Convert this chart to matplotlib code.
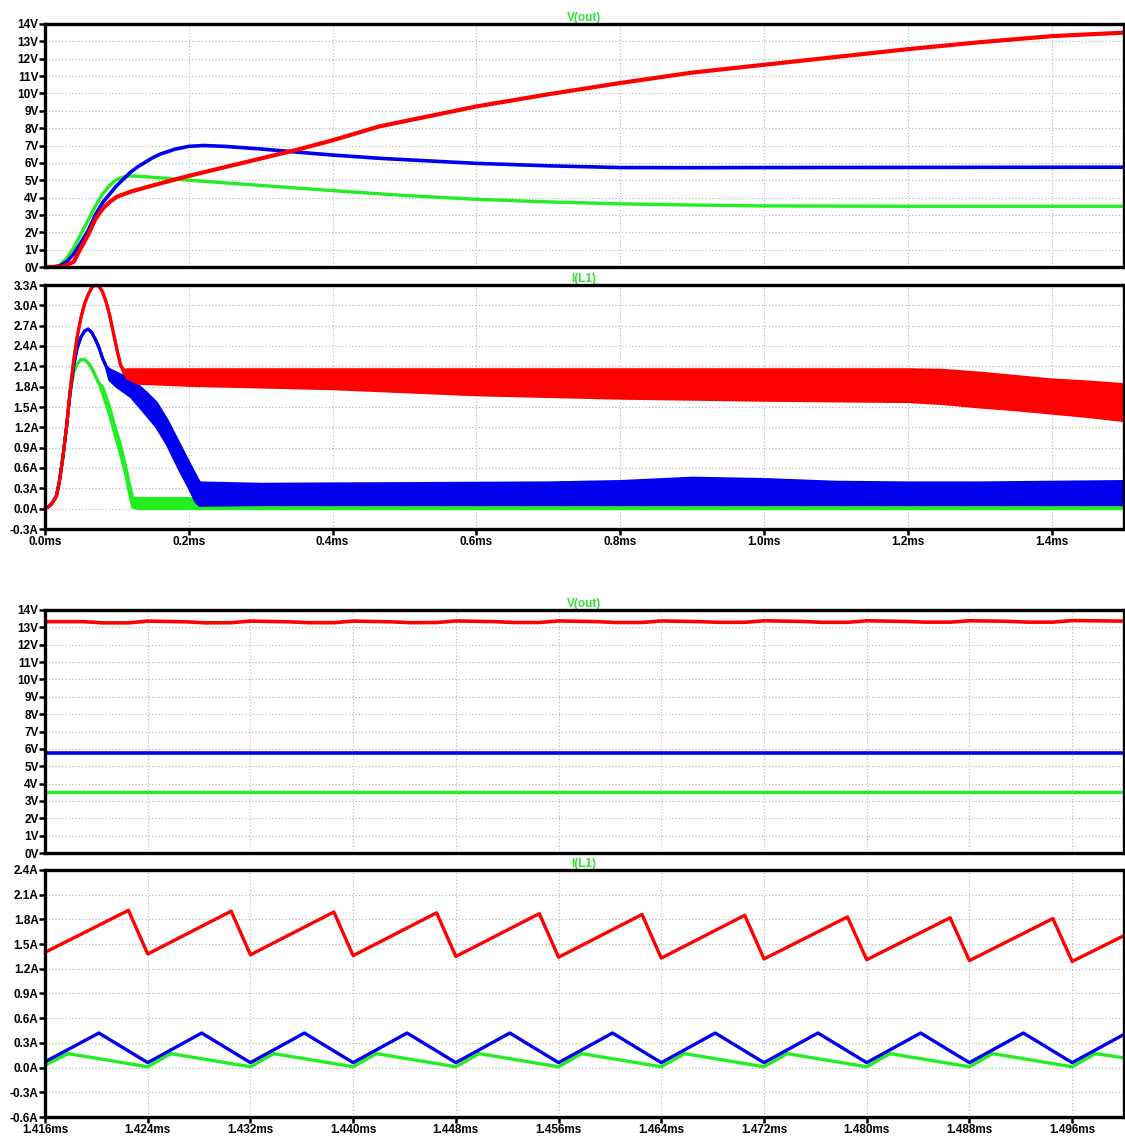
import numpy as np
import matplotlib
matplotlib.use("Agg")
import matplotlib.pyplot as plt
from matplotlib.ticker import FixedLocator, FuncFormatter

RED = "#ff0000"
BLUE = "#0000ee"
GREEN = "#22ee22"
TITLE_GREEN = "#33e033"

# ---- start-up transient, 0 .. 1.5 ms ----
# V(out)
v_green_t = [0, 0.01, 0.02, 0.03, 0.04, 0.05, 0.06, 0.07, 0.08, 0.09, 0.10, 0.11, 0.12, 0.14,
             0.2, 0.3, 0.4, 0.5, 0.6, 0.7, 0.8, 0.9, 1.0, 1.2, 1.5]
v_green = [0, 0.0, 0.1, 0.5, 1.1, 1.9, 2.7, 3.5, 4.2, 4.7, 5.05, 5.2, 5.25, 5.2,
           5.0, 4.7, 4.4, 4.12, 3.9, 3.75, 3.64, 3.57, 3.52, 3.5, 3.5]

v_blue_t = [0, 0.01, 0.02, 0.03, 0.04, 0.05, 0.06, 0.07, 0.08, 0.09, 0.10, 0.11, 0.12, 0.13,
            0.14, 0.15, 0.16, 0.18, 0.2, 0.22, 0.25, 0.3, 0.35, 0.4, 0.47, 0.6, 0.7, 0.8,
            0.9, 1.0, 1.5]
v_blue = [0, 0, 0.05, 0.3, 0.75, 1.4, 2.1, 3.0, 3.7, 4.2, 4.7, 5.1, 5.5, 5.8,
          6.05, 6.3, 6.5, 6.78, 6.95, 7.0, 6.95, 6.8, 6.62, 6.45, 6.25, 5.97, 5.83, 5.73,
          5.72, 5.73, 5.75]

v_red_t = [0, 0.02, 0.03, 0.04, 0.05, 0.06, 0.07, 0.08, 0.09, 0.10, 0.11, 0.12, 0.15, 0.2,
           0.25, 0.3, 0.35, 0.4, 0.465, 0.6, 0.7, 0.8, 0.9, 1.0, 1.1, 1.2, 1.3, 1.4, 1.5]
v_red = [0, 0, 0.1, 0.3, 1.1, 1.85, 2.75, 3.35, 3.75, 4.05, 4.2, 4.35, 4.7, 5.25,
         5.75, 6.25, 6.75, 7.3, 8.1, 9.25, 9.95, 10.6, 11.2, 11.65, 12.1, 12.55, 12.95, 13.3, 13.5]

# I(L1): switching ripple is kept as upper / lower envelope
i_red_t = [0, 0.005, 0.01, 0.016, 0.02, 0.025, 0.03, 0.035, 0.04, 0.045, 0.05, 0.055, 0.06,
           0.065, 0.07, 0.075, 0.08, 0.085, 0.09, 0.095, 0.10, 0.105, 0.11, 0.115, 0.13, 0.2,
           0.4, 0.6, 0.8, 1.0, 1.2, 1.25, 1.3, 1.35, 1.4, 1.45, 1.5]
i_red_hi = [0, 0.03, 0.08, 0.19, 0.4, 0.77, 1.21, 1.75, 2.2, 2.55, 2.82, 3.02, 3.16,
            3.26, 3.3, 3.28, 3.2, 3.05, 2.85, 2.6, 2.35, 2.12, 2.04, 2.05, 2.05, 2.05,
            2.05, 2.05, 2.05, 2.05, 2.05, 2.04, 2.0, 1.95, 1.9, 1.87, 1.83]
i_red_lo = [0, 0.03, 0.08, 0.19, 0.4, 0.77, 1.21, 1.75, 2.2, 2.55, 2.82, 3.02, 3.16,
            3.26, 3.3, 3.28, 3.2, 3.05, 2.85, 2.6, 2.35, 2.12, 2.0, 1.92, 1.85, 1.82,
            1.77, 1.68, 1.63, 1.6, 1.58, 1.55, 1.5, 1.46, 1.41, 1.36, 1.3]

i_blue_t = [0, 0.005, 0.01, 0.016, 0.02, 0.025, 0.03, 0.035, 0.04, 0.045, 0.05, 0.055, 0.06,
            0.065, 0.07, 0.075, 0.08, 0.085, 0.09, 0.1, 0.12, 0.14, 0.155, 0.17, 0.187, 0.2,
            0.21, 0.215, 0.3, 0.5, 0.7, 0.8, 0.9, 1.0, 1.1, 1.2, 1.3, 1.4, 1.5]
i_blue_hi = [0, 0.03, 0.08, 0.19, 0.4, 0.77, 1.21, 1.72, 2.12, 2.38, 2.53, 2.62, 2.65,
             2.6, 2.5, 2.38, 2.22, 2.1, 2.05, 2.0, 1.9, 1.72, 1.56, 1.3, 0.95, 0.68,
             0.48, 0.38, 0.36, 0.37, 0.38, 0.40, 0.45, 0.43, 0.39, 0.38, 0.38, 0.39, 0.40]
i_blue_lo = [0, 0.03, 0.08, 0.19, 0.4, 0.77, 1.21, 1.72, 2.12, 2.38, 2.53, 2.62, 2.65,
             2.6, 2.5, 2.38, 2.22, 2.1, 1.9, 1.8, 1.65, 1.4, 1.21, 0.95, 0.58, 0.32,
             0.1, 0.05, 0.06, 0.06, 0.06, 0.06, 0.06, 0.06, 0.06, 0.06, 0.06, 0.06, 0.06]

i_green_t = [0, 0.005, 0.01, 0.016, 0.02, 0.025, 0.03, 0.035, 0.04, 0.045, 0.05, 0.055, 0.06,
             0.065, 0.07, 0.075, 0.08, 0.09, 0.097, 0.105, 0.111, 0.117, 0.122, 0.13, 0.5,
             1.0, 1.5]
i_green_hi = [0, 0.03, 0.08, 0.19, 0.4, 0.77, 1.21, 1.7, 2.02, 2.14, 2.2, 2.2, 2.15,
              2.07, 1.96, 1.85, 1.8, 1.5, 1.22, 0.95, 0.68, 0.38, 0.16, 0.15, 0.15,
              0.17, 0.17]
i_green_lo = [0, 0.03, 0.08, 0.19, 0.4, 0.77, 1.21, 1.7, 2.02, 2.14, 2.2, 2.2, 2.15,
              2.07, 1.96, 1.85, 1.7, 1.38, 1.1, 0.8, 0.56, 0.25, 0.02, 0.0, 0.0,
              0.0, 0.0]

# ---- steady state detail, 1.416 .. 1.5 ms ----
z_v_red_t = [1.416, 1.419, 1.4205, 1.4225, 1.424, 1.427, 1.4285, 1.4305, 1.432, 1.435, 1.4365,
             1.4385, 1.440, 1.443, 1.4445, 1.4465, 1.448, 1.451, 1.4525, 1.4545, 1.456, 1.459,
             1.4605, 1.4625, 1.464, 1.467, 1.4685, 1.4705, 1.472, 1.475, 1.4765, 1.4785, 1.480,
             1.483, 1.4845, 1.4865, 1.488, 1.491, 1.4925, 1.4945, 1.496, 1.500]
z_v_red = [13.33, 13.33, 13.26, 13.26, 13.36, 13.32, 13.26, 13.27, 13.36, 13.32, 13.27,
           13.27, 13.36, 13.32, 13.27, 13.28, 13.37, 13.33, 13.28, 13.28, 13.37, 13.33,
           13.28, 13.28, 13.37, 13.33, 13.29, 13.29, 13.38, 13.34, 13.29, 13.29, 13.38,
           13.34, 13.30, 13.30, 13.38, 13.35, 13.30, 13.30, 13.39, 13.36]
z_v_blue_t = [1.416, 1.5]
z_v_blue = [5.76, 5.76]
z_v_green_t = [1.416, 1.5]
z_v_green = [3.53, 3.53]

z_i_red_t = [1.416, 1.4225, 1.424, 1.4305, 1.432, 1.4385, 1.440, 1.4465, 1.448, 1.4545, 1.456,
             1.4625, 1.464, 1.4705, 1.472, 1.4785, 1.480, 1.4865, 1.488, 1.4945, 1.496, 1.500]
z_i_red = [1.40, 1.91, 1.38, 1.90, 1.37, 1.89, 1.36, 1.88, 1.35, 1.87, 1.34,
           1.86, 1.33, 1.85, 1.32, 1.83, 1.31, 1.82, 1.30, 1.81, 1.29, 1.60]

z_i_blue_t = [1.416, 1.4202, 1.424, 1.4282, 1.432, 1.4362, 1.440, 1.4442, 1.448, 1.4522, 1.456,
              1.4602, 1.464, 1.4682, 1.472, 1.4762, 1.480, 1.4842, 1.488, 1.4922, 1.496, 1.500]
z_i_blue = [0.07, 0.42, 0.06, 0.42, 0.06, 0.42, 0.06, 0.42, 0.06, 0.42, 0.06,
            0.42, 0.06, 0.42, 0.06, 0.42, 0.06, 0.42, 0.06, 0.42, 0.06, 0.40]

z_i_green_t = [1.416, 1.4178, 1.424, 1.4258, 1.432, 1.4338, 1.440, 1.4418, 1.448, 1.4498, 1.456,
               1.4578, 1.464, 1.4658, 1.472, 1.4738, 1.480, 1.4818, 1.488, 1.4898, 1.496,
               1.4978, 1.500]
z_i_green = [0.03, 0.17, 0.01, 0.17, 0.01, 0.17, 0.01, 0.17, 0.01, 0.17, 0.01,
             0.17, 0.01, 0.17, 0.01, 0.17, 0.01, 0.17, 0.01, 0.17, 0.01, 0.17, 0.12]

v_ticks = list(range(0, 15))
i_ticks_top = [-0.3, 0.0, 0.3, 0.6, 0.9, 1.2, 1.5, 1.8, 2.1, 2.4, 2.7, 3.0, 3.3]
i_ticks_zoom = [-0.6, -0.3, 0.0, 0.3, 0.6, 0.9, 1.2, 1.5, 1.8, 2.1, 2.4]
t_ticks_top = [0.0, 0.2, 0.4, 0.6, 0.8, 1.0, 1.2, 1.4]
t_ticks_zoom = [1.416, 1.424, 1.432, 1.440, 1.448, 1.456, 1.464, 1.472, 1.480, 1.488, 1.496]

plt.rcParams["font.family"] = ["Liberation Sans", "DejaVu Sans"]
plt.rcParams["font.weight"] = "bold"

W, H = 1125, 1137
fig = plt.figure(figsize=(W / 100, H / 100), dpi=100)


def panel(top_px, bottom_px):
    left, right = 45, 1123.5
    return fig.add_axes([left / W, 1 - bottom_px / H, (right - left) / W, (bottom_px - top_px) / H])


def style(ax, title, xlim, ylim, yticks, yunit, ydec, xticks=None, xdec=1):
    ax.set_xlim(*xlim)
    ax.set_ylim(*ylim)
    for s in ax.spines.values():
        s.set_linewidth(2.4)
        s.set_color("black")
        s.set_zorder(10)
    ax.yaxis.set_major_locator(FixedLocator(yticks))
    ax.yaxis.set_major_formatter(FuncFormatter(lambda v, p: f"{v:.{ydec}f}{yunit}"))
    ax.tick_params(axis="y", direction="out", length=4, width=1.8, pad=0.5,
                   labelsize=8.5, colors="black")
    if xticks is not None:
        ax.xaxis.set_major_locator(FixedLocator(xticks))
        ax.xaxis.set_major_formatter(FuncFormatter(lambda v, p: f"{v:.{xdec}f}ms"))
        ax.tick_params(axis="x", direction="out", length=4, width=1.8, pad=1,
                       labelsize=8.5, colors="black")
    ax.grid(True, color="#b4b4b4", linestyle=(0, (1, 2)), linewidth=0.8)
    ax.set_axisbelow(True)
    ax.set_title(title, color=TITLE_GREEN, fontsize=8.5, fontweight="bold", pad=2)


def band(ax, t, hi, lo, color, z):
    # fill and both edges share one z level so later traces cover earlier ones
    ax.fill_between(t, lo, hi, color=color, linewidth=0, zorder=z)
    ax.plot(t, hi, color=color, lw=2.2, zorder=z)
    ax.plot(t, lo, color=color, lw=2.2, zorder=z)


# top: V(out) during start-up
ax1 = panel(24, 267)
ax1.plot(v_green_t, v_green, color=GREEN, lw=2.4, zorder=3)
ax1.plot(v_blue_t, v_blue, color=BLUE, lw=2.6, zorder=4)
ax1.plot(v_red_t, v_red, color=RED, lw=3.0, zorder=5)
style(ax1, "V(out)", (0, 1.5), (0, 14), v_ticks, "V", 0, xticks=t_ticks_top)
ax1.tick_params(axis="x", length=0, labelbottom=False)

# I(L1) during start-up
ax2 = panel(285, 529)
band(ax2, i_green_t, i_green_hi, i_green_lo, GREEN, 3)
band(ax2, i_blue_t, i_blue_hi, i_blue_lo, BLUE, 4)
band(ax2, i_red_t, i_red_hi, i_red_lo, RED, 5)
style(ax2, "I(L1)", (0, 1.5), (-0.3, 3.3), i_ticks_top, "A", 1, xticks=t_ticks_top, xdec=1)

# bottom: zoom on the last switching cycles
ax3 = panel(610, 853)
ax3.plot(z_v_green_t, z_v_green, color=GREEN, lw=2.4, zorder=3)
ax3.plot(z_v_blue_t, z_v_blue, color=BLUE, lw=2.6, zorder=4)
ax3.plot(z_v_red_t, z_v_red, color=RED, lw=2.6, zorder=5)
style(ax3, "V(out)", (1.416, 1.5), (0, 14), v_ticks, "V", 0, xticks=t_ticks_zoom, xdec=3)
ax3.tick_params(axis="x", length=0, labelbottom=False)

ax4 = panel(870, 1117)
ax4.plot(z_i_green_t, z_i_green, color=GREEN, lw=2.4, zorder=3)
ax4.plot(z_i_blue_t, z_i_blue, color=BLUE, lw=2.4, zorder=4)
ax4.plot(z_i_red_t, z_i_red, color=RED, lw=2.4, zorder=5)
style(ax4, "I(L1)", (1.416, 1.5), (-0.6, 2.4), i_ticks_zoom, "A", 1, xticks=t_ticks_zoom, xdec=3)

fig.savefig("out.png", dpi=100, facecolor="white")
